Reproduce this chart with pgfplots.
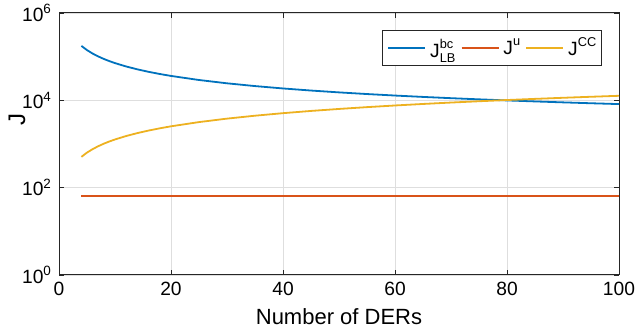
\documentclass[border=0pt]{standalone}
\usepackage{pgfplots}
\usepackage{pgfplotstable}
\pgfplotsset{compat=1.18}
\usepackage{fontspec}
\setmainfont{Liberation Sans}
\definecolor{mblue}{rgb}{0,0.447,0.741}
\definecolor{morange}{rgb}{0.850,0.325,0.098}
\definecolor{myellow}{rgb}{0.929,0.694,0.125}
\definecolor{maxis}{rgb}{0.15,0.15,0.15}
\definecolor{mgrid}{rgb}{0.87,0.87,0.87}
\pgfplotstableread{
x y
4 176200
5 141200
6 117867
7 101200
8 88700
9 78978
10 71200
12 59533
14 51200
16 44950
18 40089
20 36200
25 29200
30 24533
35 21200
40 18700
45 16756
50 15200
55 13927
60 12867
65 11969
70 11200
75 10533
80 9950
85 9435
90 8978
95 8568
100 8200
}\blue
\pgfplotstableread{
x y
4 65
100 65
}\orange
\pgfplotstableread{
x y
4 508
5 635
6 762
7 889
8 1016
9 1143
10 1270
12 1524
14 1778
16 2032
18 2286
20 2540
25 3175
30 3810
35 4445
40 5080
45 5715
50 6350
55 6985
60 7620
65 8255
70 8890
75 9525
80 10160
85 10795
90 11430
95 12065
100 12700
}\yellow
\newcommand{\sups}[1]{\raisebox{4.5pt}{\fontsize{6.4}{6.4}\selectfont #1}}
\newcommand{\subs}[1]{\raisebox{-2.5pt}{\fontsize{6.4}{6.4}\selectfont #1}}
\begin{document}
\begin{tikzpicture}
\begin{axis}[
  name=ax,
  scale only axis,
  width=280pt, height=131pt,
  xmin=0, xmax=100,
  ymode=log, ymin=1, ymax=1000000,
  xtick={0,20,40,60,80,100},
  ytick={1,100,10000,1000000},
  yticklabels={10\textsuperscript{0},10\textsuperscript{2},10\textsuperscript{4},10\textsuperscript{6}},
  minor ytick={},
  /pgf/number format/assume math mode=true,
  tick label style={font=\fontsize{9.6}{11.5}\selectfont, text=black},
  tick align=inside,
  major tick length=2.6pt,
  tick style={maxis, line width=0.4pt},
  axis line style={maxis, line width=0.5pt},
  grid=major,
  major grid style={mgrid, line width=0.4pt},
  xlabel={Number of DERs},
  ylabel={J},
  xlabel style={font=\fontsize{11}{13}\selectfont, at={(axis description cs:0.5,-0.103)}, anchor=north},
  ylabel style={font=\fontsize{12}{14}\selectfont, at={(axis description cs:-0.075,0.595)}, anchor=center},
  legend columns=-1,
  legend style={at={(rel axis cs:0.9696,0.935)}, anchor=north east,
    draw=maxis, line width=0.5pt, font=\fontsize{9.6}{10}\selectfont,
    inner xsep=2.6pt, inner ysep=2.5pt,
    nodes={inner xsep=0pt, inner ysep=0pt},
    /tikz/every odd column/.append style={column sep=2pt},
    /tikz/every even column/.append style={column sep=2.6pt}},
  legend image code/.code={\draw[#1, line width=0.9pt] (0pt,0pt) -- (18.5pt,0pt);},
]
\addplot[mblue, line width=0.9pt] table[x=x,y=y] {\blue};
\addlegendentry{\rule{0pt}{11pt}J\makebox[0pt][l]{\sups{bc}}\subs{LB}}
\addplot[morange, line width=0.9pt] table[x=x,y=y] {\orange};
\addlegendentry{J\sups{u}}
\addplot[myellow, line width=0.9pt] table[x=x,y=y] {\yellow};
\addlegendentry{J\sups{CC}}
\end{axis}
\pgfresetboundingbox
\path[use as bounding box] ([shift={(-29.5pt,-30pt)}]ax.south west) rectangle ([shift={(8.5pt,6.5pt)}]ax.north east);
\end{tikzpicture}
\end{document}
